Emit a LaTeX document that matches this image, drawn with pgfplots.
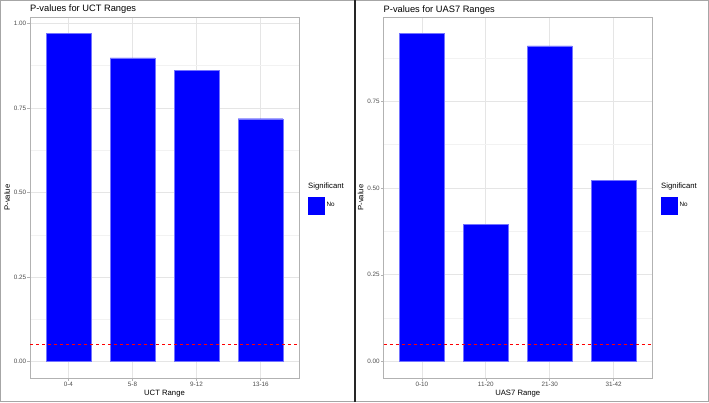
\documentclass[border=0pt]{standalone}
\usepackage{pgfplots}
\pgfplotsset{compat=1.18}
\usepackage{fontspec}
\setmainfont{Liberation Sans}
\definecolor{gthirty}{gray}{0.30}
\definecolor{gseventy}{gray}{0.70}
\definecolor{ggrid}{gray}{0.90}
\definecolor{ggridminor}{gray}{0.95}
\definecolor{barblue}{RGB}{0,0,255}
\definecolor{refred}{RGB}{255,0,0}
\pgfplotsset{
  myPanel/.style={
    scale only axis, height=361pt,
    xmin=0.4, xmax=4.6, xtick={1,2,3,4},
    clip=false,
    axis line style={gseventy, line width=0.7pt},
    tick style={gseventy, line width=0.5pt},
    major tick length=2.5pt, minor tick length=0pt, tick align=outside, tick pos=left,
    xmajorgrids, ymajorgrids, yminorgrids,
    major grid style={ggrid, line width=0.6pt},
    minor grid style={ggridminor, line width=0.4pt},
    ticklabel style={font=\fontsize{6.3}{7}\selectfont, text=gthirty, inner sep=1.2pt},
    /pgf/number format/assume math mode=true,
    yticklabel={\pgfmathprintnumber[fixed,fixed zerofill,precision=2]{\tick}},
    every axis x label/.style={at={(rel axis cs:0.5,0)}, anchor=center, yshift=-15.5pt, font=\fontsize{7.7}{9}\selectfont},
    every axis y label/.style={at={(rel axis cs:0,0.5)}, anchor=center, rotate=90, yshift=23pt, font=\fontsize{7.7}{9}\selectfont},
    every axis title/.style={at={(rel axis cs:0,1)}, anchor=base west, yshift=5pt, inner sep=0pt, font=\fontsize{9.3}{11}\selectfont},
    legend style={at={(rel axis cs:1,0.5)}, anchor=west, xshift=9pt, yshift=-8pt, draw=none, fill=none, inner sep=0pt,
      font=\fontsize{6.3}{7}\selectfont, nodes={inner sep=2pt}},
    legend cell align=left,
    legend image code/.code={\fill[barblue] (0pt,-8.5pt) rectangle (16pt,8.5pt);},
  },
  myBars/.style={ybar, bar width=0.7, fill=barblue, draw=barblue!55!white, line width=0.3pt},
  myRef/.style={draw=refred, line width=0.7pt, dash pattern=on 3pt off 3pt, forget plot},
}
\begin{document}
\begin{tikzpicture}
\useasboundingbox (0pt,0pt) rectangle (709pt,402pt);
\begin{axis}[myPanel, at={(30pt,24pt)}, anchor=south west, width=269pt,
  ymin=-0.0485, ymax=1.0185,
  ytick={0,0.25,0.5,0.75,1}, minor ytick={0.125,0.375,0.625,0.875},
  xticklabels={0-4,5-8,9-12,13-16},
  title={P-values for UCT Ranges}, xlabel={UCT Range}, ylabel={P-value}]
\addplot[myBars] coordinates {(1,0.970) (2,0.898) (3,0.861) (4,0.718)};
\addlegendentry{No}
\addplot[myRef] coordinates {(0.4,0.05) (4.6,0.05)};
\node[anchor=west, inner sep=0pt, font=\fontsize{7.7}{9}\selectfont, xshift=9pt, yshift=10.5pt] at (rel axis cs:1,0.5) {Significant};
\end{axis}
\begin{axis}[myPanel, at={(383.5pt,24pt)}, anchor=south west, width=268.5pt,
  ymin=-0.0473, ymax=0.9923,
  ytick={0,0.25,0.5,0.75}, minor ytick={0.125,0.375,0.625,0.875},
  xticklabels={0-10,11-20,21-30,31-42},
  title={P-values for UAS7 Ranges}, xlabel={UAS7 Range}, ylabel={P-value}]
\addplot[myBars] coordinates {(1,0.945) (2,0.396) (3,0.909) (4,0.522)};
\addlegendentry{No}
\addplot[myRef] coordinates {(0.4,0.05) (4.6,0.05)};
\node[anchor=west, inner sep=0pt, font=\fontsize{7.7}{9}\selectfont, xshift=9pt, yshift=10.5pt] at (rel axis cs:1,0.5) {Significant};
\end{axis}
\draw[gray!70, line width=1pt] (0.5pt,0.5pt) rectangle (708.5pt,401.5pt);
\draw[gray!30!black, line width=1.2pt] (355pt,0pt) -- (355pt,402pt);
\end{tikzpicture}
\end{document}
